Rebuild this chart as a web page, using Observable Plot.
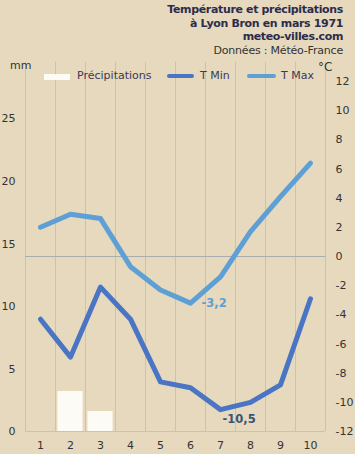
<!DOCTYPE html>
<html>
<head>
<meta charset="utf-8">
<script src="https://cdn.jsdelivr.net/npm/d3@7"></script>
<script src="https://cdn.jsdelivr.net/npm/@observablehq/plot@0.6"></script>
<style>
  html, body { margin: 0; padding: 0; background: #e6d9bd; }
  #wrap { position: relative; width: 355px; height: 454px; overflow: hidden;
    font-family: "DejaVu Sans", sans-serif; color: #333; }
  #title { position: absolute; right: 12px; top: 3px; text-align: right;
    font-size: 11px; line-height: 13.7px; color: #2c2c4c; font-weight: bold; letter-spacing: -0.35px; }
  #title .src { font-weight: normal; color: #333; letter-spacing: -0.2px; }
  .lab { position: absolute; font-size: 11px; color: #333; }
  .leg { position: absolute; font-size: 11px; color: #3a3a55; white-space: nowrap; }
  .sw { position: absolute; }
</style>
</head>
<body>
<div id="wrap">
  <div id="chart"></div>
  <div id="title">Température et précipitations<br>à Lyon Bron en mars 1971<br>meteo-villes.com<br><span class="src">Données : Météo-France</span></div>
  <div class="lab" style="left:10px; top:59px;">mm</div>
  <div class="lab" style="left:318px; top:60px; font-size:12px;">°C</div>
  <div class="sw" style="left:44px; top:74px; width:26px; height:6px; background:#fdfbf6;"></div>
  <div class="leg" style="left:77px; top:69px;">Précipitations</div>
  <div class="sw" style="left:167px; top:74px; width:27px; height:4px; background:#4a74c4; border-radius:2px;"></div>
  <div class="leg" style="left:200px; top:69px;">T Min</div>
  <div class="sw" style="left:247px; top:74px; width:29px; height:4px; background:#5e9fd6; border-radius:2px;"></div>
  <div class="leg" style="left:281px; top:69px;">T Max</div>
</div>
<script>
const days = [1, 2, 3, 4, 5, 6, 7, 8, 9, 10];
const tmin = [-4.3, -6.9, -2.1, -4.3, -8.6, -9.0, -10.5, -10.0, -8.8, -2.9];
const tmax = [2.0, 2.9, 2.6, -0.7, -2.3, -3.2, -1.4, 1.7, 4.1, 6.4];
const precip = [0, 3.2, 1.6, 0, 0, 0, 0, 0, 0, 0];
const mmTicks = [0, 5, 10, 15, 20, 25];
const cTicks = [-12, -10, -8, -6, -4, -2, 0, 2, 4, 6, 8, 10, 12];
const minLabel = "-10,5";
const maxLabel = "-3,2";

const mmMax = 28, cMin = -12, cMax = 12;
const toC = mm => cMin + mm * (cMax - cMin) / mmMax;
const yTop = 13.3;

const rows = days.map((d, i) => ({day: d, tmin: tmin[i], tmax: tmax[i], mm: precip[i]}));
const iMin = tmin.indexOf(d3.min(tmin));
const iMax = tmax.indexOf(d3.min(tmax));
const edges = d3.range(0.5, days.length + 1, 1);

const chart = Plot.plot({
  width: 355, height: 454,
  marginTop: 62, marginBottom: 23, marginLeft: 25, marginRight: 30,
  style: {background: "transparent", fontFamily: "DejaVu Sans, sans-serif", fontSize: "11px", color: "#333"},
  x: {type: "linear", domain: [0.5, days.length + 0.5]},
  y: {domain: [cMin, yTop]},
  marks: [
    Plot.ruleX(edges, {y1: cMin, y2: yTop, stroke: "#d0c3a5", strokeWidth: 1}),
    Plot.ruleY([cMin], {stroke: "#d0c3a5"}),
    Plot.ruleY([0], {stroke: "#a9adb0", strokeWidth: 1.2}),
    Plot.rectY(rows.filter(r => r.mm > 0), {x1: d => d.day - 0.42, x2: d => d.day + 0.42, y1: cMin, y2: d => toC(d.mm), fill: "#fdfbf6"}),
    Plot.line(rows, {x: "day", y: "tmax", stroke: "#5e9fd6", strokeWidth: 5, strokeLinejoin: "round", strokeLinecap: "round"}),
    Plot.line(rows, {x: "day", y: "tmin", stroke: "#4a74c4", strokeWidth: 5, strokeLinejoin: "round", strokeLinecap: "round"}),
    Plot.text([rows[iMax]], {x: "day", y: "tmax", text: () => maxLabel, textAnchor: "start", dx: 11, dy: 0, fill: "#5e9fd6", fontWeight: "bold", fontSize: 11.5}),
    Plot.text([rows[iMin]], {x: "day", y: "tmin", text: () => minLabel, textAnchor: "start", dx: 2, dy: 10, fill: "#3a5478", fontWeight: "bold", fontSize: 11.5}),
    Plot.axisX({ticks: days, tickSize: 0, tickPadding: 10, tickFormat: d => d, label: null}),
    Plot.axisY({anchor: "left", ticks: mmTicks.map(toC), tickSize: 0, tickPadding: 10, tickFormat: (d, i) => mmTicks[i], label: null}),
    Plot.axisY({anchor: "right", ticks: cTicks, tickSize: 0, tickPadding: 10, tickFormat: d => d, label: null})
  ]
});
document.getElementById("chart").appendChild(chart);
</script>
</body>
</html>
